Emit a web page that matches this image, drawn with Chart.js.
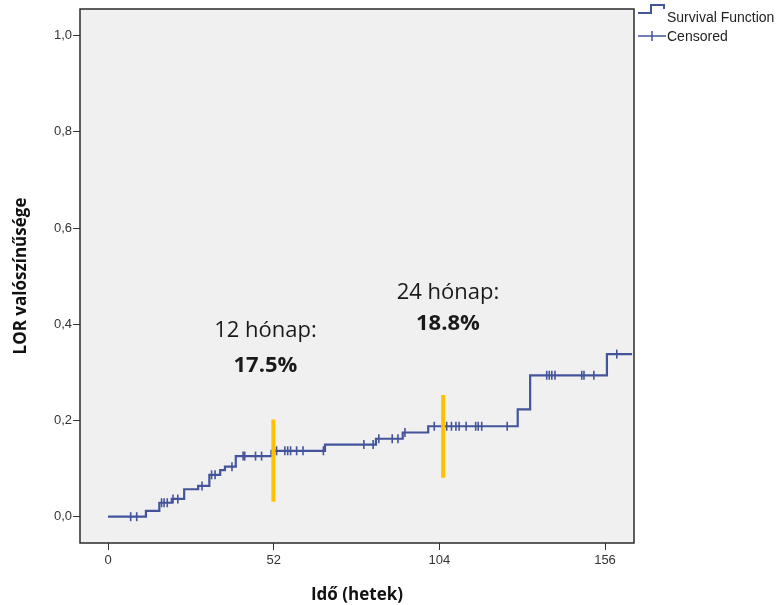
<!DOCTYPE html>
<html>
<head>
<meta charset="utf-8">
<title>LOR valószínűsége</title>
<script src="https://cdn.jsdelivr.net/npm/chart.js@4.4.1/dist/chart.umd.min.js"></script>
<style>
    html, body { margin: 0; padding: 0; background: #ffffff; }
    #chartBox { width: 781px; height: 605px; }
</style>
</head>
<body>
<div id="chartBox"><canvas id="lorChart" width="781" height="605"></canvas></div>
<script>
// Cumulative LOR curve: time of each step (weeks) and value after the step
const stepTimes  = [0, 11.9, 16.1, 20.0, 23.9, 28.3, 31.8, 35.2, 36.7, 40.1, 51.3, 68.1, 84.1, 92.5, 100.5, 128.6, 132.5, 156.6, 164.5];
const stepValues = [0, 0.012, 0.029, 0.037, 0.057, 0.064, 0.087, 0.097, 0.104, 0.126, 0.137, 0.150, 0.162, 0.175, 0.188, 0.223, 0.294, 0.338, 0.338];

// Censored observations
const censorTimes  = [7.1, 9.0, 16.8, 17.6, 18.6, 20.4, 21.9, 29.5, 32.5, 33.6, 38.9, 42.4, 42.9, 46.3, 48.2,
                      52.9, 55.5, 56.4, 57.3, 59.2, 61.2, 67.6, 80.3, 83.2, 85.0, 89.2, 91.0, 93.2,
                      102.4, 106.3, 107.8, 109.2, 110.2, 112.4, 115.4, 116.2, 117.3, 125.3,
                      137.7, 138.5, 139.3, 140.3, 148.7, 149.4, 152.5, 159.7];
const censorValues = [0, 0, 0.029, 0.029, 0.029, 0.037, 0.037, 0.064, 0.087, 0.087, 0.104, 0.126, 0.126, 0.126, 0.126,
                      0.137, 0.137, 0.137, 0.137, 0.137, 0.137, 0.137, 0.150, 0.150, 0.162, 0.162, 0.162, 0.175,
                      0.188, 0.188, 0.188, 0.188, 0.188, 0.188, 0.188, 0.188, 0.188, 0.188,
                      0.294, 0.294, 0.294, 0.294, 0.294, 0.294, 0.294, 0.338];

// Axis ticks
const xTicks = [0, 52, 104, 156];
const yTicks = [0, 0.2, 0.4, 0.6, 0.8, 1.0];

// Yellow markers at 12 and 24 months
const markerTimes   = [51.9, 105.2];
const markerTops    = [0.202, 0.253];
const markerBottoms = [0.031, 0.081];
const markerTitles  = ['12 hónap:', '24 hónap:'];
const markerRates   = ['17.5%', '18.8%'];

// Where the marker texts sit (data coordinates)
const labelAnchors = [
    { x: 49.4, titleY: 0.386, rateY: 0.314 },
    { x: 106.7, titleY: 0.465, rateY: 0.402 }
];

const lineColor = '#43549b';
const markerColor = '#ffc000';

const curvePoints = stepTimes.map((t, i) => ({ x: t, y: stepValues[i] }));
const censorPoints = censorTimes.map((t, i) => ({ x: t, y: censorValues[i] }));

const markerSets = markerTimes.map((t, i) => ({
    type: 'line',
    data: [{ x: t, y: markerTops[i] }, { x: t, y: markerBottoms[i] }],
    borderColor: markerColor,
    borderWidth: 4,
    pointRadius: 0,
    order: 0
}));

// Grey plot background, frame, texts and legend
const plotFrame = {
    id: 'plotFrame',
    beforeDraw(chart) {
        const { ctx, chartArea: a } = chart;
        ctx.save();
        ctx.fillStyle = '#f0f0f0';
        ctx.fillRect(a.left, a.top, a.right - a.left, a.bottom - a.top);
        ctx.restore();
    },
    afterDraw(chart) {
        const { ctx, chartArea: a, scales } = chart;
        ctx.save();
        ctx.strokeStyle = '#2b2b2b';
        ctx.lineWidth = 1.5;
        ctx.strokeRect(a.left, a.top, a.right - a.left, a.bottom - a.top);

        // marker texts
        ctx.fillStyle = '#1a1a1a';
        ctx.textAlign = 'center';
        ctx.textBaseline = 'middle';
        labelAnchors.forEach((p, i) => {
            const x = scales.x.getPixelForValue(p.x);
            ctx.font = '22px "Open Sans"';
            ctx.fillText(markerTitles[i], x, scales.y.getPixelForValue(p.titleY));
            ctx.font = 'bold 22px "Open Sans"';
            ctx.fillText(markerRates[i], x, scales.y.getPixelForValue(p.rateY));
        });

        // legend
        const lx = a.right + 4;
        ctx.strokeStyle = lineColor;
        ctx.lineWidth = 2;
        ctx.beginPath();
        ctx.moveTo(lx, 13);
        ctx.lineTo(lx + 13, 13);
        ctx.lineTo(lx + 13, 5);
        ctx.lineTo(lx + 26, 5);
        ctx.lineTo(lx + 26, 9);
        ctx.stroke();
        ctx.lineWidth = 1.5;
        ctx.beginPath();
        ctx.moveTo(lx, 36);
        ctx.lineTo(lx + 28, 36);
        ctx.moveTo(lx + 14, 31);
        ctx.lineTo(lx + 14, 41);
        ctx.stroke();
        ctx.fillStyle = '#222';
        ctx.textAlign = 'left';
        ctx.font = '14px "Liberation Sans", Arial, sans-serif';
        ctx.fillText('Survival Function', lx + 29, 18);
        ctx.fillText('Censored', lx + 29, 37);
        ctx.restore();
    }
};

const ctx = document.getElementById('lorChart');

new Chart(ctx, {
    type: 'line',
    data: {
        datasets: [
            {
                label: 'Survival Function',
                data: curvePoints,
                borderColor: lineColor,
                borderWidth: 2.2,
                stepped: 'before',
                pointRadius: 0,
                fill: false,
                order: 2
            },
            {
                type: 'scatter',
                label: 'Censored',
                data: censorPoints,
                pointStyle: 'line',
                rotation: 90,
                radius: 4.5,
                borderColor: lineColor,
                borderWidth: 1.6,
                showLine: false,
                order: 1
            },
            ...markerSets
        ]
    },
    options: {
        responsive: false,
        animation: false,
        devicePixelRatio: 1,
        layout: { padding: { left: 0, right: 147, top: 9, bottom: 0 } },
        plugins: {
            legend: { display: false },
            tooltip: { enabled: false }
        },
        scales: {
            x: {
                type: 'linear',
                min: -8.8,
                max: 165.1,
                afterBuildTicks: scale => { scale.ticks = xTicks.map(v => ({ value: v })); },
                afterFit: scale => { scale.height = 62; },
                grid: { drawOnChartArea: false, tickLength: 7, color: '#333' },
                border: { display: false },
                ticks: {
                    padding: 3,
                    color: '#333',
                    font: { family: '"Liberation Sans", Arial, sans-serif', size: 13 }
                },
                title: {
                    display: true,
                    text: 'Idő (hetek)',
                    color: '#111',
                    font: { family: '"Open Sans"', size: 17, weight: 'bold' },
                    padding: { top: 0, bottom: 0 }
                }
            },
            y: {
                type: 'linear',
                min: -0.0547,
                max: 1.0555,
                afterBuildTicks: scale => { scale.ticks = yTicks.map(v => ({ value: v })); },
                afterFit: scale => { scale.width = 80; },
                grid: { drawOnChartArea: false, tickLength: 7, color: '#333' },
                border: { display: false },
                ticks: {
                    padding: 1,
                    color: '#333',
                    font: { family: '"Liberation Sans", Arial, sans-serif', size: 13 },
                    callback: v => v.toFixed(1).replace('.', ',')
                },
                title: {
                    display: true,
                    text: 'LOR valószínűsége',
                    color: '#111',
                    font: { family: '"Open Sans"', size: 17, weight: 'bold' },
                    padding: { top: 11, bottom: 0 }
                }
            }
        }
    },
    plugins: [plotFrame]
});
</script>
</body>
</html>
